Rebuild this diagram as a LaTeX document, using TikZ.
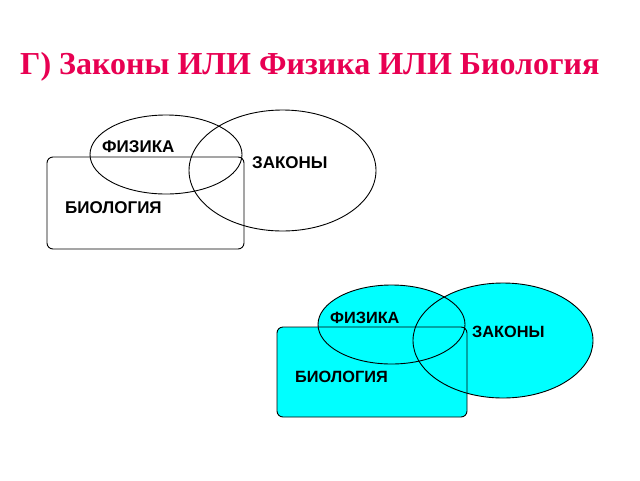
\documentclass[tikz,border=0pt]{standalone}
\usepackage{fontspec}
\setmainfont{Liberation Serif}
\newfontfamily\lblfont{Liberation Sans}
\definecolor{titlered}{RGB}{232,0,82}
\definecolor{aqua}{RGB}{0,255,255}
\begin{document}
\begin{tikzpicture}[x=1pt,y=-1pt,
  outline/.style={draw=black,line width=0.9pt},
  boxshape/.style={outline,rounded corners=6pt},
  lbl/.style={font=\lblfont\bfseries\fontsize{17}{17}\selectfont,inner sep=0pt,anchor=west},
  lblb/.style={font=\lblfont\bfseries\fontsize{16.3}{16.3}\selectfont,inner sep=0pt,anchor=west}]
\useasboundingbox (0,0) rectangle (640,480);
\fill[white] (0,0) rectangle (640,480);
\node[font=\bfseries\fontsize{32}{32}\selectfont,text=titlered,anchor=west,inner sep=0pt] (title) at (20,67) {Г) Законы ИЛИ Физика ИЛИ Биология};
% top diagram
\draw[boxshape] (47,157) rectangle (244,249);
\draw[outline] (166,154.5) ellipse [x radius=76,y radius=39.5];
\draw[outline] (282.5,170.5) ellipse [x radius=93.5,y radius=60.5];
\node[lbl] (fiz1) at (102,147) {ФИЗИКА};
\node[lbl] (zak1) at (252,163) {ЗАКОНЫ};
\node[lbl] (bio1) at (65,208) {БИОЛОГИЯ};
% bottom diagram
\fill[aqua,rounded corners=6pt] (277,327) rectangle (467,417);
\fill[aqua] (391.5,324.5) ellipse [x radius=73.5,y radius=39.5];
\fill[aqua] (503,340.5) ellipse [x radius=90,y radius=57.5];
\draw[boxshape] (277,327) rectangle (467,417);
\draw[outline] (391.5,324.5) ellipse [x radius=73.5,y radius=39.5];
\draw[outline] (503,340.5) ellipse [x radius=90,y radius=57.5];
\node[lblb] (fiz2) at (330,318) {ФИЗИКА};
\node[lblb] (zak2) at (472,332) {ЗАКОНЫ};
\node[lblb] (bio2) at (295,377) {БИОЛОГИЯ};
\end{tikzpicture}
\end{document}
